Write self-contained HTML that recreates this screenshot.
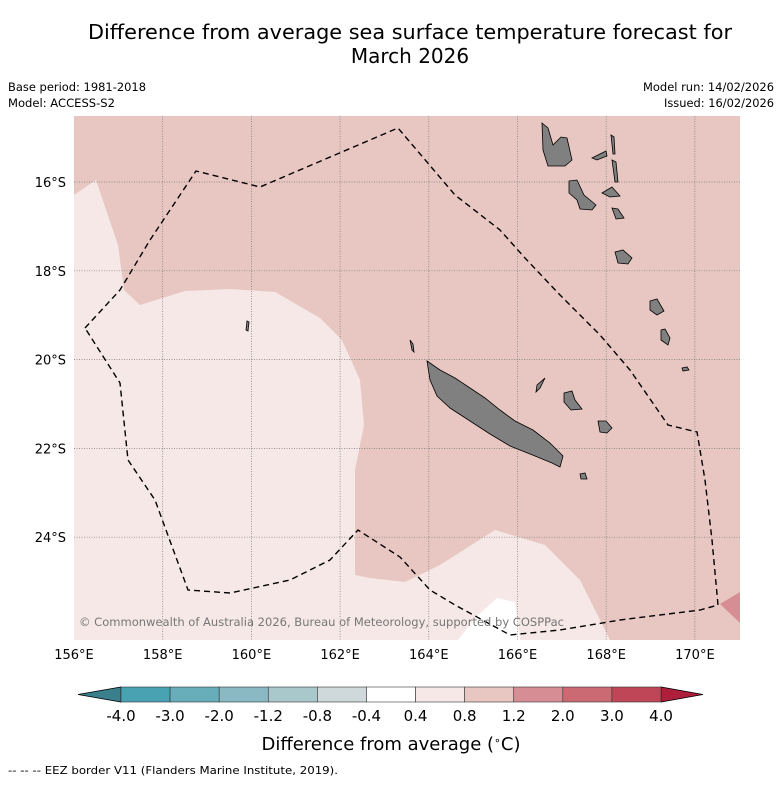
<!DOCTYPE html>
<html><head><meta charset="utf-8"><style>
body{margin:0;background:#fff;width:781px;height:781px;overflow:hidden;font-family:"DejaVu Sans","Liberation Sans",sans-serif;}
svg text{font-family:"DejaVu Sans","Liberation Sans",sans-serif;}
</style></head><body>
<svg id="fig" width="781" height="781" viewBox="0 0 781 781">
<text x="410" y="39" font-size="20" text-anchor="middle" textLength="644" lengthAdjust="spacingAndGlyphs">Difference from average sea surface temperature forecast for</text>
<text x="410" y="63" font-size="20" text-anchor="middle">March 2026</text>
<text x="8" y="91" font-size="11.5" textLength="138" lengthAdjust="spacingAndGlyphs">Base period: 1981-2018</text>
<text x="8" y="107" font-size="11.5" textLength="107" lengthAdjust="spacingAndGlyphs">Model: ACCESS-S2</text>
<text x="774" y="91" font-size="11.5" text-anchor="end" textLength="131" lengthAdjust="spacingAndGlyphs">Model run: 14/02/2026</text>
<text x="774" y="107" font-size="11.5" text-anchor="end" textLength="110" lengthAdjust="spacingAndGlyphs">Issued: 16/02/2026</text>

<g>
<clipPath id="mc"><rect x="74" y="116" width="666" height="524"/></clipPath>
<g clip-path="url(#mc)">
<rect x="74" y="116" width="666" height="524" fill="#e8c7c2"/>
<path d="M74,195 L96,180 L118,245 L124,290 L140,305 L185,291 L230,289 L275,292 L320,318 L342,340 L360,380 L364,425 L355,470 L355,575 L370,578 L405,582 L440,565 L495,530 L545,545 L580,580 L610,640 L74,640 Z" fill="#f5e8e6"/>
<path d="M458,640 L475,618 L497,598 L515,602 L520,640 Z" fill="#ffffff"/>
<path d="M720,604 L740,592 L740,623 Z" fill="#d68e94"/>
<g id="grid"></g>
<g fill="#808080" stroke="#000" stroke-width="0.8">
<path d="M427,361 L440,370 L455,378 L470,388 L485,398 L500,410 L515,421 L533,430 L550,443 L563,456 L560,467 L552,463 L535,456 L510,446 L490,434 L470,421 L450,408 L437,396 L430,380 Z"/>
<path d="M542,123 L548,128 L553,145 L561,137 L567,138 L572,160 L565,166 L548,166 L543,150 Z"/>
<path d="M569,181 L577,180 L584,195 L596,205 L592,210 L580,209 L577,200 L569,193 Z"/>
<path d="M592,158 L606,151 L607,156 L597,160 Z"/>
<path d="M611,135 L614,137 L615,154 L613,154 Z"/>
<path d="M612,160 L616,162 L618,182 L615,182 Z"/>
<path d="M602,193 L612,187 L620,196 L610,197 Z"/>
<path d="M612,208 L618,209 L624,218 L616,219 Z"/>
<path d="M615,252 L623,250 L632,258 L628,264 L618,263 Z"/>
<path d="M650,301 L657,299 L664,311 L657,315 L650,310 Z"/>
<path d="M661,330 L665,329 L670,338 L668,345 L661,340 Z"/>
<path d="M682,368 L687,367 L689,370 L683,371 Z"/>
<path d="M537,385 L545,378 L540,388 L536,392 Z"/>
<path d="M564,393 L572,391 L575,400 L582,409 L571,410 L564,402 Z"/>
<path d="M598,421 L606,421 L612,428 L607,433 L600,432 Z"/>
<path d="M580,474 L585,473 L587,479 L581,479 Z"/>
<path d="M410,340 L413,344 L414,352 L412,350 Z"/>
<path d="M247,321 L249,322 L248,331 L246,330 Z"/>
</g>
<path d="M85,328 L120,290 L150,240 L196,171 L260,187 L398,128 L455,195 L500,230 L525,258 L560,295 L600,335 L630,370 L668,425 L697,432 L705,480 L712,540 L718,605 L700,610 L620,620 L560,630 L510,635 L455,605 L430,590 L400,557 L358,530 L330,560 L290,580 L230,593 L188,590 L155,500 L128,460 L120,383 Z" fill="none" stroke="#000" stroke-width="1.4" stroke-dasharray="6,4"/>
</g>
<text x="79" y="626" font-size="11.5" fill="#777" textLength="485" lengthAdjust="spacingAndGlyphs">© Commonwealth of Australia 2026, Bureau of Meteorology, supported by COSPPac</text>
<g id="lonlabels" font-size="13" text-anchor="middle"></g>
<g id="latlabels" font-size="13" text-anchor="end"></g>
</g>

<g id="cbar"></g>
<text x="391" y="750" font-size="18" text-anchor="middle">Difference from average (<tspan baseline-shift="super" font-size="11">∘</tspan>C)</text>
<text x="8" y="774" font-size="10.5" textLength="330" lengthAdjust="spacingAndGlyphs">-- -- -- EEZ border V11 (Flanders Marine Institute, 2019).</text>
</svg>
<script>
const lonTicks=[156,158,160,162,164,166,168,170];
const latTicks=[16,18,20,22,24];
const cbLevels=[-4.0,-3.0,-2.0,-1.2,-0.8,-0.4,0.4,0.8,1.2,2.0,3.0,4.0];
const cbColors=["#48a2b2","#68adba","#8ab8c3","#a9c8cc","#cfd8da","#ffffff","#f5e8e6","#e8c7c2","#d68e94","#cc6a74","#be4656"];
const NS="http://www.w3.org/2000/svg";
function lonX(l){return 74+(l-156)*44.35;}
function latY(l){return 182+(l-16)*44.4;}
function mk(t,a,p){const e=document.createElementNS(NS,t);for(const k in a)e.setAttribute(k,a[k]);p.appendChild(e);return e;}
const grid=document.getElementById('grid'),lonL=document.getElementById('lonlabels'),latL=document.getElementById('latlabels');
lonTicks.forEach(l=>{const x=lonX(l);
 if(l>156){const g=mk('line',{x1:x,x2:x,y1:116,y2:640,stroke:'#777','stroke-width':0.7,'stroke-dasharray':'1,1.5'},grid);
 
 }
 const t=mk('text',{x:x,y:659},lonL);t.textContent=l+'°E';
 
 });
latTicks.forEach(l=>{const y=latY(l);
 const g=mk('line',{x1:74,x2:740,y1:y,y2:y,stroke:'#777','stroke-width':0.7,'stroke-dasharray':'1,1.5'},grid);
 
 
 const t=mk('text',{x:66,y:y+5},latL);t.textContent=l+'°S';
 
 });
const cb=document.getElementById('cbar');
const x0=121,x1=661,y0=687,y1=702,n=cbColors.length,w=(x1-x0)/n;
function cbX(i){return x0+i*w;}
const l=mk('polygon',{points:`${x0},${y0} ${x0},${y1} 78,${(y0+y1)/2}`,fill:'#3a808c',stroke:'#000','stroke-width':0.8},cb);


const r=mk('polygon',{points:`${x1},${y0} ${x1},${y1} 703,${(y0+y1)/2}`,fill:'#ae1f3b',stroke:'#000','stroke-width':0.8},cb);


cbColors.forEach((c,i)=>{const b=mk('rect',{x:cbX(i),y:y0,width:w,height:y1-y0,fill:c,stroke:'#333','stroke-width':0.6},cb);
 
 });
cbLevels.forEach((v,i)=>{const t=mk('text',{x:cbX(i),y:721,'font-size':15,'text-anchor':'middle'},cb);t.textContent=v.toFixed(1);
 
 });
</script>
</body></html>
